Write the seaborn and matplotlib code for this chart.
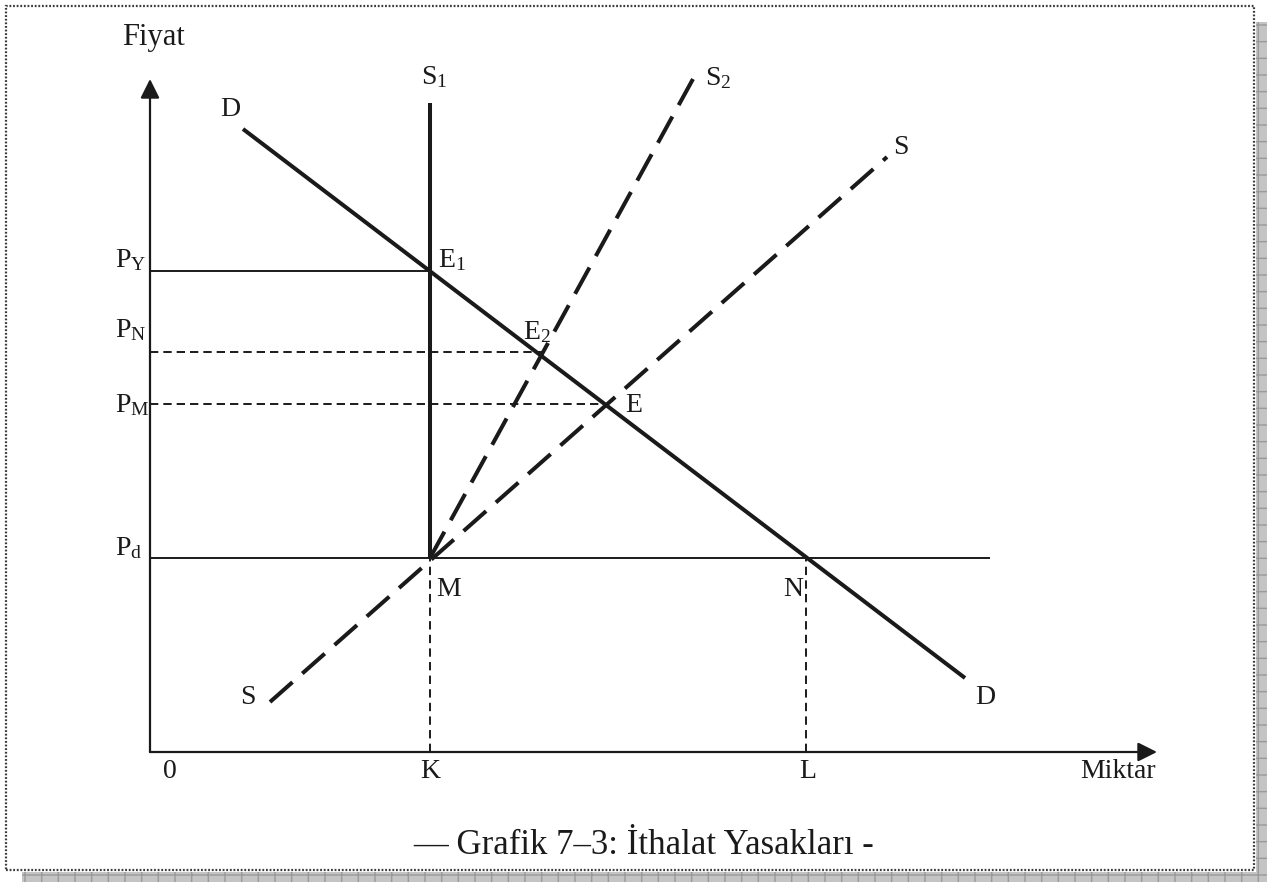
import numpy as np
import pandas as pd
import matplotlib
matplotlib.use("Agg")
import matplotlib.pyplot as plt
from matplotlib.patches import Rectangle
import seaborn as sns

# ---- data (quantity / price units of the diagram) ----
demand_q = [93, 815]
demand_p = [623, 74]
supply_q = [120, 737]
supply_p = [50, 595]
s1_q = [280, 280]
s1_p = [194, 649]
s2_q = [280, 543]
s2_p = [194, 673]
price_names = ["P_d", "P_M", "P_N", "P_Y"]
price_vals = [194, 348, 400, 481]
q_K = 280
q_L = 656
q_E = 457
q_E2 = 393
q_pd_end = 840
x_axis_end = 1007
y_axis_end = 673

sns.set_theme(style="white")
plt.rcParams["font.family"] = ["Liberation Serif", "DejaVu Serif"]
plt.rcParams["mathtext.fontset"] = "custom"
plt.rcParams["mathtext.rm"] = "Liberation Serif"
plt.rcParams["mathtext.it"] = "Liberation Serif:italic"
plt.rcParams["lines.scale_dashes"] = False

W, H = 1267, 882
OX, OY = 150, 752  # pixel location of origin
fig = plt.figure(figsize=(W / 100, H / 100), dpi=100)
ax = fig.add_axes([0, 0, 1, 1])
ax.set_xlim(-OX, W - OX)
ax.set_ylim(OY - H, OY)
ax.axis("off")

def P(px, py):
    return px - OX, OY - py

ink = "#1a1a1a"
thick = 2.9
thin = 1.4

def seg(q, p, lw, dashes=None):
    df = pd.DataFrame({"Q": q, "P": p})
    sns.lineplot(data=df, x="Q", y="P", ax=ax, color=ink, lw=lw,
                 estimator=None, sort=False, legend=False)
    l = ax.lines[-1]
    l.set_solid_capstyle("butt")
    l.set_dash_capstyle("butt")
    if dashes is not None:
        l.set_linestyle((0, dashes))
    return l

# axes with arrows
ax.annotate("", xy=(0, y_axis_end), xytext=(0, 0),
            arrowprops=dict(arrowstyle="-|>,head_length=0.58,head_width=0.29",
                            mutation_scale=20, lw=1.6, color=ink,
                            shrinkA=0, shrinkB=0))
ax.annotate("", xy=(x_axis_end, 0), xytext=(0, 0),
            arrowprops=dict(arrowstyle="-|>,head_length=0.58,head_width=0.29",
                            mutation_scale=20, lw=1.6, color=ink,
                            shrinkA=0, shrinkB=0))

# price level lines
pd_val, pm_val, pn_val, py_val = price_vals
seg([0, q_pd_end], [pd_val, pd_val], thin)
seg([0, q_K], [py_val, py_val], thin)
seg([0, q_E2], [pn_val, pn_val], thin, (6, 3.6))
seg([0, q_E], [pm_val, pm_val], thin, (6, 3.6))
seg([q_K, q_K], [0, pd_val], thin, (6, 3.8))
seg([q_L, q_L], [0, pd_val], thin, (6, 3.8))

# curves
seg(demand_q, demand_p, thick)
seg(s1_q, s1_p, thick)
seg(supply_q, supply_p, thick, (21.6, 9.4))
seg(s2_q, s2_p, thick, (21.6, 9.4))

fs = 20
def lab(px, py, s, ha="left", size=fs):
    x, y = P(px, py)
    ax.text(x, y, s, ha=ha, va="center", fontsize=size, color=ink)

lab(153, 37, "Fiyat", ha="center", size=22)
lab(220, 110, "D")
lab(421, 77, r"S$_\mathrm{1}$")
lab(705, 78, r"S$_\mathrm{2}$")
lab(893, 147, "S")
lab(438, 260, r"E$_\mathrm{1}$")
lab(523, 332, r"E$_\mathrm{2}$")
lab(625, 405, "E")
lab(115, 260, r"P$_\mathrm{Y}$")
lab(115, 330, r"P$_\mathrm{N}$")
lab(115, 405, r"P$_\mathrm{M}$")
lab(115, 548, r"P$_\mathrm{d}$")
lab(436, 589, "M")
lab(783, 589, "N")
lab(240, 698, "S")
lab(975, 698, "D")
lab(170, 772, "0", ha="center")
lab(430, 772, "K", ha="center")
lab(808, 772, "L", ha="center")
lab(1118, 772, "Miktar", ha="center")
lab(644, 845, "— Grafik 7–3: İthalat Yasakları -", ha="center", size=25)

# frame with shadow
def rect(px0, py0, px1, py1, **kw):
    x0, y1 = P(px0, py0)
    x1, y0 = P(px1, py1)
    r = Rectangle((x0, y0), x1 - x0, y1 - y0, **kw)
    ax.add_patch(r)

rect(1256, 22, 1267, 882, facecolor="#c4c4c4", edgecolor="#9a9a9a",
     hatch="+", lw=0)
rect(22, 872, 1267, 882, facecolor="#c4c4c4", edgecolor="#9a9a9a",
     hatch="+", lw=0)
rect(6, 6, 1254, 870, facecolor="none", edgecolor="#3a3a3a", lw=1.6,
     linestyle=(0, (1.3, 1.3)))

fig.savefig("out.png", dpi=100)
